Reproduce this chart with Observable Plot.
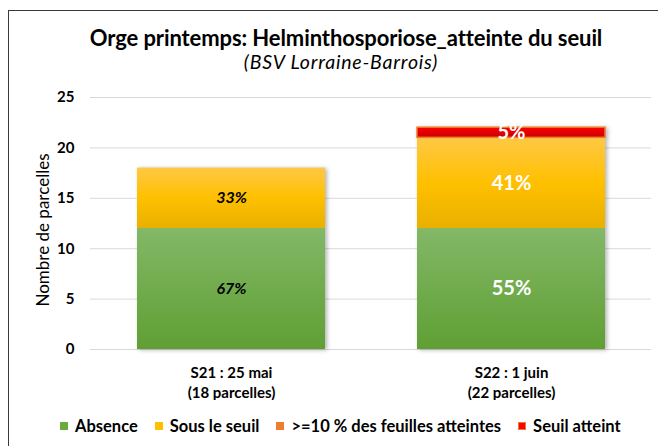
<!DOCTYPE html>
<html>
<head>
<meta charset="utf-8">
<script src="https://cdn.jsdelivr.net/npm/d3@7"></script>
<script src="https://cdn.jsdelivr.net/npm/@observablehq/plot@0.6"></script>
<style>
  html, body { margin: 0; padding: 0; background: #fff; }
  body { width: 658px; height: 446px; overflow: hidden; position: relative; font-family: Lato, "Open Sans", sans-serif; }
  #frame { position: absolute; left: 8px; top: 10px; width: 700px; height: 500px; border: 1.5px solid #3a3a3a; box-sizing: border-box; }
  #title { position: absolute; left: 0; width: 692px; top: 24px; text-align: center; font-weight: bold; font-size: 22px; color: #000; letter-spacing: -0.1px; }
  #subtitle { position: absolute; left: 0; width: 682px; top: 50px; text-align: center; font-style: italic; font-size: 19.5px; letter-spacing: 0.8px; color: #000; }
  #ylabel { position: absolute; left: 42px; top: 230px; transform: translate(-50%, -50%) rotate(-90deg); white-space: nowrap; font-size: 17px; color: #000; }
  #chart { position: absolute; left: 0; top: 0; }
  #legend { position: absolute; left: 60px; top: 416px; display: flex; align-items: center; font-weight: bold; font-size: 16.5px; color: #000; white-space: nowrap; }
  .item { display: flex; align-items: center; margin-right: 17px; }
  .sw { width: 8px; height: 8px; margin-right: 7px; box-sizing: border-box; }
</style>
</head>
<body>
<div id="frame"></div>
<div id="chart"></div>
<div id="title">Orge printemps: Helminthosporiose_atteinte du seuil</div>
<div id="subtitle">(BSV Lorraine-Barrois)</div>
<div id="ylabel">Nombre de parcelles</div>
<div id="legend"></div>
<script>
// ---- data ----
const categories = ["S21 : 25 mai\n(18 parcelles)", "S22 : 1 juin\n(22 parcelles)"];
const series = ["Absence", "Sous le seuil", ">=10 % des feuilles atteintes", "Seuil atteint"];
const absence = [12, 12];
const sousLeSeuil = [6, 9];
const dixPourcent = [0, 0];
const seuilAtteint = [0, 1];
const yTicks = [0, 5, 10, 15, 20, 25];

// ---- build table ----
const valuesBySeries = [absence, sousLeSeuil, dixPourcent, seuilAtteint];
const rows = [];
categories.forEach((c, i) => {
  const total = valuesBySeries.reduce((s, arr) => s + arr[i], 0);
  series.forEach((s, j) => {
    rows.push({cat: c, ci: i, series: s, value: valuesBySeries[j][i], pct: Math.round(valuesBySeries[j][i] / total * 100) + "%"});
  });
});
const nonZero = rows.filter(d => d.value > 0);

const gradIds = ["gAbs", "gSous", "gDix", "gSeuil"];
const swatch = ["#6aab3e", "#ffc000", "#ed7d31", "#ff0000"];

const chart = Plot.plot({
  width: 658,
  height: 400,
  marginLeft: 90,
  marginRight: 7,
  marginTop: 97,
  marginBottom: 51,
  style: {background: "transparent", fontFamily: "Lato, 'Open Sans', sans-serif", color: "#000"},
  x: {domain: categories, paddingInner: 0.33, paddingOuter: 0.165, label: null},
  y: {domain: [0, 25], label: null},
  color: {domain: series, range: gradIds.map(id => `url(#${id})`)},
  marks: [
    Plot.gridY(yTicks, {stroke: "#d9d9d9", strokeOpacity: 1, strokeWidth: 1}),
    Plot.axisY(yTicks, {tickSize: 0, tickPadding: 16, fontSize: 15, fontWeight: "bold", label: null}),
    Plot.axisX({tickSize: 0, tickPadding: 14, fontSize: 15, fontWeight: "bold", lineHeight: 1.33, label: null}),
    Plot.barY(nonZero, {x: "cat", y: "value", fill: "series",
      stroke: d => d.series === "Seuil atteint" ? "#f07828" : "none", strokeWidth: 1.5}),
    Plot.text(nonZero.filter(d => d.ci === 0), Plot.stackY({x: "cat", y: "value", text: "pct",
      fill: "#000", fontSize: 16, fontWeight: "bold", fontStyle: "italic"})),
    Plot.text(nonZero.filter(d => d.ci === 1), Plot.stackY({x: "cat", y: "value", text: "pct",
      fill: "#fff", fontSize: 20, fontWeight: "bold"}))
  ]
});

// gradients
const ns = "http://www.w3.org/2000/svg";
const defs = document.createElementNS(ns, "defs");
const stops = {
  gAbs: [["0%", "#83b867"], ["100%", "#5f9f33"]],
  gSous: [["0%", "#ffc845"], ["50%", "#ffc000"], ["100%", "#e8b000"]],
  gDix: [["0%", "#f4955a"], ["100%", "#d8691f"]],
  gSeuil: [["0%", "#ff0000"], ["100%", "#c80000"]]
};
for (const id of gradIds) {
  const g = document.createElementNS(ns, "linearGradient");
  g.setAttribute("id", id);
  g.setAttribute("x1", "0"); g.setAttribute("y1", "0"); g.setAttribute("x2", "0"); g.setAttribute("y2", "1");
  for (const [o, c] of stops[id]) {
    const s = document.createElementNS(ns, "stop");
    s.setAttribute("offset", o); s.setAttribute("stop-color", c);
    g.appendChild(s);
  }
  defs.appendChild(g);
}
chart.insertBefore(defs, chart.firstChild);
chart.querySelectorAll("g[aria-label='bar']").forEach(g => g.style.filter = "drop-shadow(2px 1px 2px rgba(0,0,0,0.3))");
document.getElementById("chart").appendChild(chart);

// legend
const legend = document.getElementById("legend");
series.forEach((s, j) => {
  const it = document.createElement("div");
  it.className = "item";
  const sw = document.createElement("span");
  sw.className = "sw";
  sw.style.background = swatch[j];
  if (s === "Seuil atteint") sw.style.border = "1px solid #f07828";
  const t = document.createElement("span");
  t.textContent = s;
  it.appendChild(sw); it.appendChild(t);
  legend.appendChild(it);
});
</script>
</body>
</html>
